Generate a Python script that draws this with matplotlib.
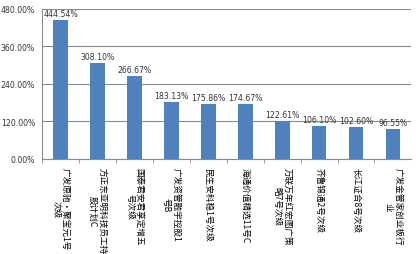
import matplotlib
matplotlib.use('Agg')
import matplotlib.pyplot as plt

plt.rcParams['font.family'] = ['Noto Sans CJK SC', 'DejaVu Sans']

# nombres de productos (con salto de linea como en el original)
products = ['广发原驰·聚宝元1号\n次级', '方正东亚明科技员工持\n股计划C', '国泰君安君享定增五\n号次级',
            '广发资管融宇控股1\n号B', '民生安科稳1号次级', '海通价值精选11号C',
            '万联万年红宏图广策\n略7号次级', '齐鲁锦通2号次级', '长江证合8号次级',
            '广发金管家创业板行\n业']
returns = [444.54, 308.10, 266.67, 183.13, 175.86, 174.67, 122.61, 106.10, 102.60, 96.55]
yticks = [0, 120, 240, 360, 480]

fig = plt.figure(figsize=(4.16, 2.55), dpi=100)
ax = fig.add_axes([0.101, 0.373, 0.888, 0.588])

x = list(range(len(products)))
ax.bar(x, returns, width=0.4, color='#4F81BD', zorder=3)

for i, v in zip(x, returns):
    ax.text(i, v + 6, '%.2f%%' % v, ha='center', va='bottom', fontsize=5.6,
            color='#333333', family='DejaVu Sans')

ax.set_xlim(-0.5, len(products) - 0.5)
ax.set_ylim(0, 480)
ax.set_yticks(yticks)
ax.set_yticklabels(['%.2f%%' % t for t in yticks], fontsize=5.6, color='#333333',
                   family='DejaVu Sans')
ax.yaxis.grid(True, color='#8c8c8c', linewidth=0.8, zorder=0)
ax.tick_params(axis='y', length=0, pad=5)

ax.set_xticks(x)
ax.set_xticklabels(products, rotation=270, fontsize=6.2, va='top', ha='center',
                   linespacing=1.1)
ax.set_xticks([i + 0.5 for i in x[:-1]] + [-0.5], minor=True)
ax.tick_params(axis='x', which='major', length=0, pad=6)
ax.tick_params(axis='x', which='minor', length=3, color='#8c8c8c')

for s in ['top', 'right']:
    ax.spines[s].set_visible(False)
ax.spines['left'].set_color('#8c8c8c')
ax.spines['bottom'].set_color('#8c8c8c')

fig.savefig('out.png', dpi=100)
